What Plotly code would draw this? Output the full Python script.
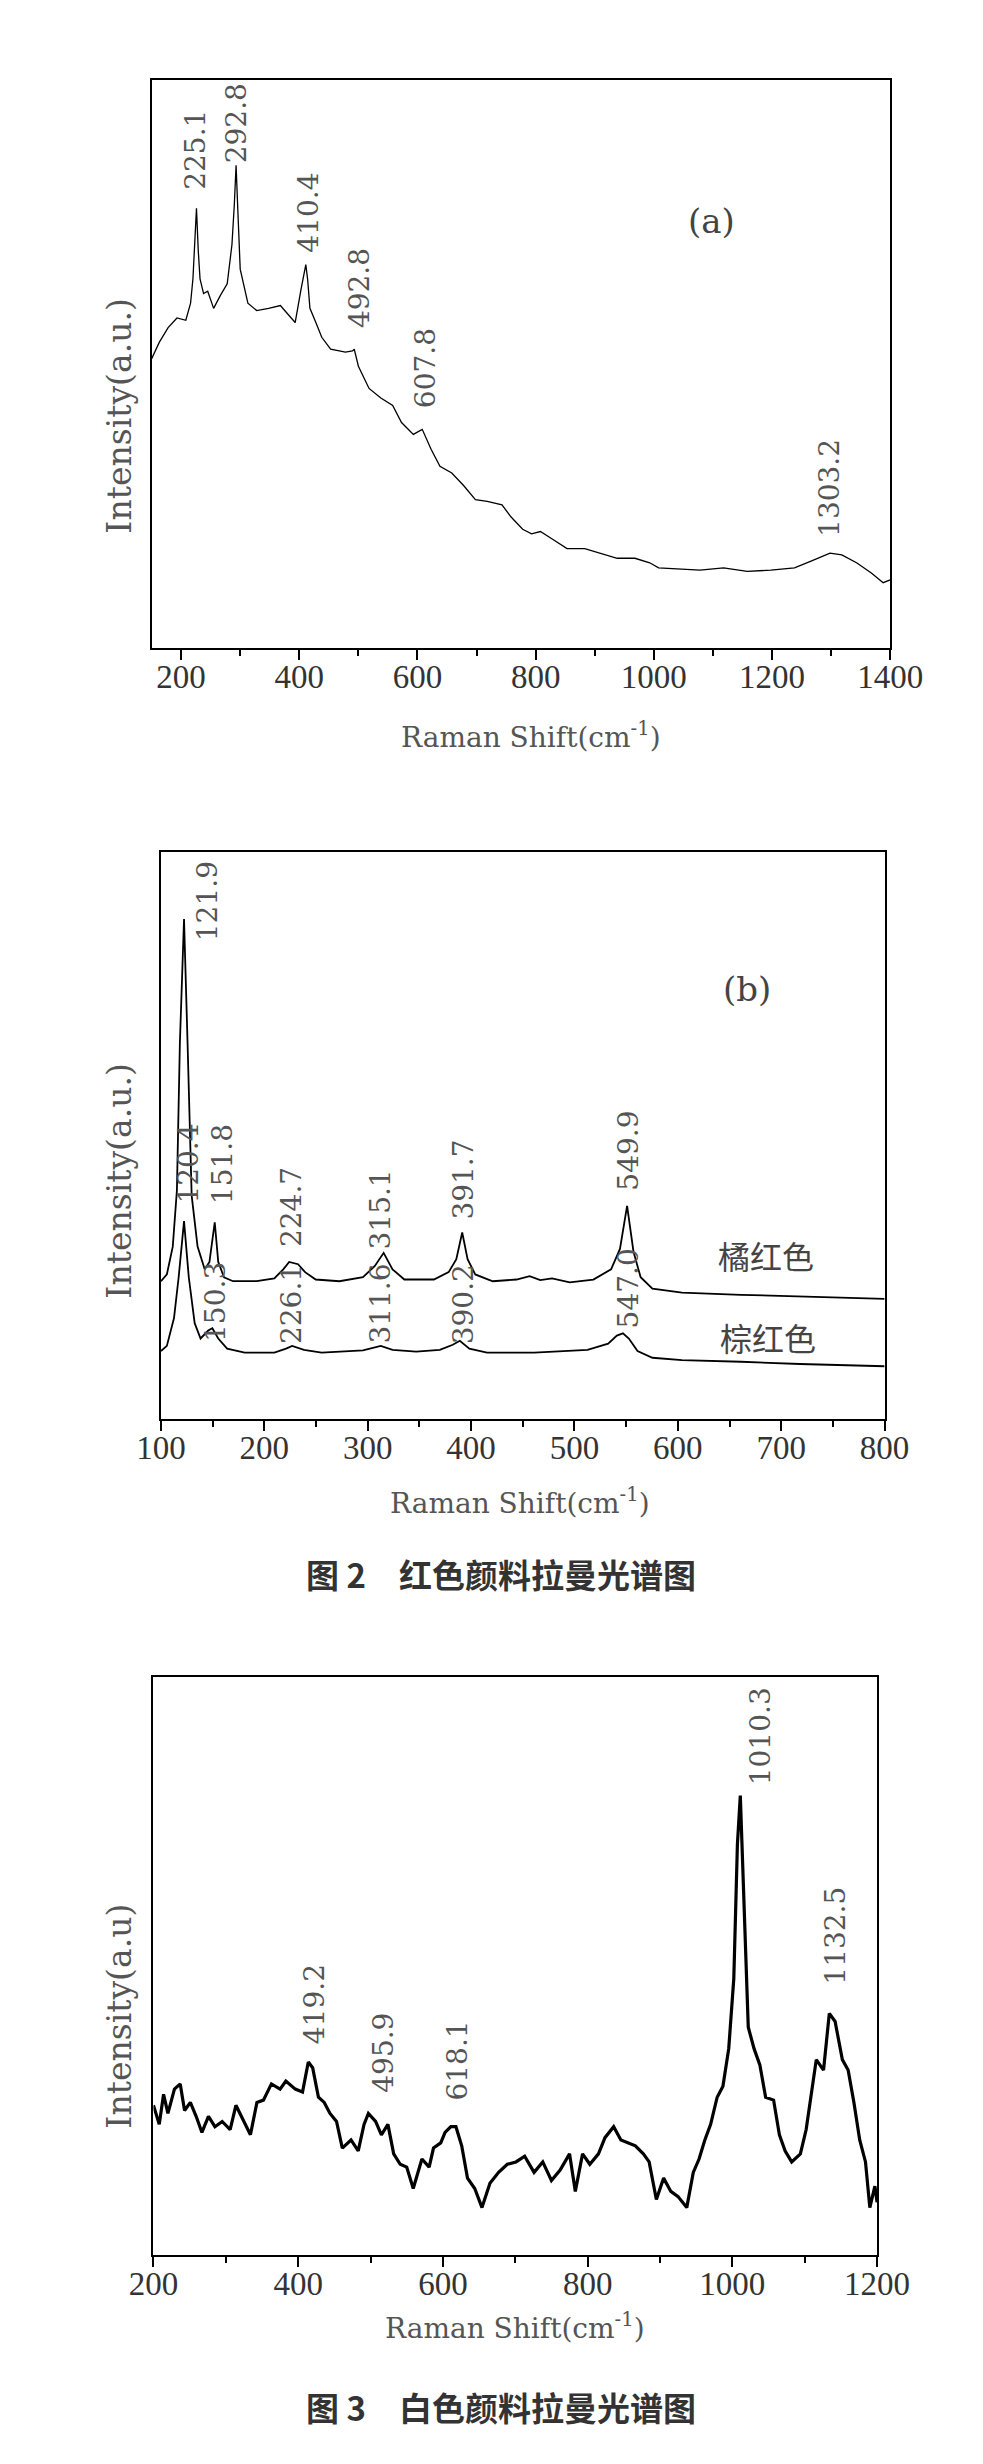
import plotly.graph_objects as go

# ---------------- Panel (a) data ----------------
a_shift = [150, 163, 178, 193, 208, 216, 220, 223, 226, 229, 232, 238, 245, 255, 266, 278, 286, 290, 293, 296, 300,
           313, 328, 348, 368, 383, 393, 403, 408, 411, 414, 418, 428, 438, 453, 478, 490, 493, 500, 518, 538, 558,
           573, 593, 608, 623, 638, 658, 678, 698, 718, 743, 758, 778, 793, 808, 828, 853, 883, 908, 938, 968, 993,
           1008, 1048, 1078, 1118, 1158, 1198, 1238, 1268, 1298, 1318, 1343, 1368, 1388, 1400]
a_int = [50.9, 53.8, 56.4, 58.1, 57.7, 60.7, 65.0, 72.0, 77.4, 70.0, 65.0, 62.4, 62.8, 59.8, 62.0, 64.1, 71.0, 78.0,
         85.0, 77.0, 66.7, 60.7, 59.4, 59.8, 60.3, 58.5, 57.3, 63.2, 66.0, 67.5, 65.0, 59.8, 57.3, 54.7, 52.6, 52.1,
         52.3, 52.6, 49.6, 45.7, 44.0, 42.7, 39.7, 37.6, 38.5, 35.0, 32.0, 30.8, 28.6, 26.1, 25.8, 25.2, 23.1, 20.9,
         20.1, 20.5, 19.2, 17.5, 17.5, 16.7, 15.8, 15.8, 15.0, 14.1, 13.8, 13.7, 14.1, 13.5, 13.7, 14.1, 15.4, 16.7,
         16.4, 15.0, 13.2, 11.5, 12.0]
a_labels = ["225.1", "292.8", "410.4", "492.8", "607.8", "1303.2"]
a_label_x = [225, 293, 416, 503, 613, 1298]
a_label_y = [80.3, 85.0, 69.2, 56.0, 41.9, 19.2]

# ---------------- Panel (b) data ----------------
b_shift_top = [100, 105.7, 111.4, 115.4, 118.3, 122.3, 125.7, 129.7, 135.4, 142.3, 146.9, 152, 155.4, 161, 169.7,
               192.6, 209.7, 218.3, 224, 232.6, 239.4, 249.7, 272.6, 295.4, 306.9, 315.4, 324, 335.4, 364, 378.3,
               385.7, 391.4, 396.6, 404, 421, 444, 456.6, 466.9, 478.3, 495.4, 518.3, 535.4, 544, 550.9, 557.1,
               564, 575.4, 604, 661, 718, 800]
b_int_top = [24.3, 25.5, 30.4, 40.3, 66.4, 88.2, 66.4, 39.4, 30.4, 26.4, 27.7, 34.7, 27.7, 25.0, 24.3,
             24.3, 24.8, 26.4, 27.7, 27.3, 25.9, 24.6, 24.3, 25.0, 27.0, 29.3, 26.4, 24.6, 24.6, 25.9,
             28.2, 32.9, 28.2, 25.5, 24.3, 24.6, 25.2, 24.5, 24.8, 24.1, 24.6, 26.4, 30.0, 37.6, 29.5,
             25.0, 23.0, 22.3, 21.9, 21.6, 21.2]
b_shift_bot = [100, 105.7, 112.6, 117.1, 122.3, 126.9, 132.6, 138.3, 145.7, 149.7, 155.4, 164, 181, 209.7, 221,
               226.9, 238.3, 255.4, 295.4, 312.6, 324, 346.9, 369.7, 382.3, 389.1, 398.3, 415.4, 461, 512.6,
               532.6, 541, 546.9, 552.6, 561, 575.4, 604, 661, 718, 800]
b_int_bot = [12.0, 12.9, 17.8, 25.0, 34.9, 25.0, 16.9, 14.2, 15.6, 16.0, 14.2, 12.4, 11.7, 11.7, 12.4,
             12.9, 12.2, 11.7, 12.1, 12.9, 12.2, 11.9, 12.2, 13.1, 13.8, 12.4, 11.7, 11.7, 12.2,
             13.3, 14.7, 15.1, 14.2, 12.0, 10.8, 10.4, 10.1, 9.7, 9.3]
b_labels_top = ["121.9", "120.4", "151.8", "224.7", "315.1", "391.7", "549.9"]
b_label_top_x = [145, 126.9, 159.4, 226.9, 312.6, 392.6, 552.6]
b_label_top_y = [84.0, 37.6, 37.6, 30.0, 29.5, 34.9, 39.9]
b_labels_bot = ["150.3", "226.1", "311.6", "390.2", "547.0"]
b_label_bot_x = [152.6, 226.9, 312.6, 392.6, 552.6]
b_label_bot_y = [13.3, 12.9, 12.9, 12.9, 15.6]
b_series_names = ["橘红色", "棕红色"]

# ---------------- Panel (c) data ----------------
c_shift = [200, 208, 214, 220, 229, 237, 243, 251, 259, 267, 276, 285, 295, 306, 314, 325, 334, 343, 352, 363, 375,
           383, 396, 406, 414, 420, 428, 436, 444, 453, 461, 473, 483, 491, 497, 507, 515, 524, 532, 541, 550, 559,
           571, 581, 587, 597, 603, 611, 618, 626, 634, 644, 654, 665, 677, 689, 701, 713, 726, 738, 750, 762, 775,
           783, 793, 803, 815, 824, 836, 846, 856, 866, 877, 885, 895, 905, 915, 925, 937, 946, 954, 962, 970, 979,
           987, 995, 1002, 1007, 1011, 1016, 1022, 1030, 1038, 1046, 1057, 1065, 1073, 1082, 1094, 1102, 1108,
           1116, 1126, 1134, 1142, 1152, 1160, 1168, 1176, 1184, 1190, 1197, 1200]
c_int = [25.9, 22.6, 27.8, 24.5, 28.7, 29.6, 25.0, 26.4, 24.0, 21.2, 24.0, 22.2, 23.1, 21.7, 25.9, 23.1, 20.8, 26.4,
         26.8, 29.6, 28.7, 30.1, 28.7, 28.2, 33.4, 32.4, 27.3, 26.4, 24.5, 23.1, 18.5, 19.9, 18.0, 22.6, 24.5, 23.1,
         20.8, 22.6, 17.5, 15.7, 15.2, 11.5, 16.6, 15.2, 18.5, 19.4, 21.2, 22.2, 22.2, 18.9, 13.3, 11.5, 8.2, 12.4,
         14.3, 15.7, 16.1, 17.1, 14.3, 16.1, 12.9, 14.7, 17.5, 11.0, 17.5, 15.7, 17.5, 20.3, 22.2, 19.9, 19.4, 18.9,
         17.5, 16.1, 9.6, 13.3, 11.0, 10.1, 8.2, 14.3, 16.6, 19.9, 22.6, 27.3, 29.2, 35.7, 47.8, 71.1, 79.5, 61.8,
         39.4, 35.7, 32.9, 27.3, 26.8, 20.8, 18.0, 16.1, 17.5, 21.7, 27.3, 33.8, 32.0, 41.8, 40.4, 33.8, 32.0, 26.4,
         19.9, 16.1, 8.2, 11.9, 9.1]
c_labels = ["419.2", "495.9", "618.1", "1010.3", "1132.5"]
c_label_x = [422.5, 517.8, 619.7, 1039.4, 1143]
c_label_y = [36.2, 27.8, 26.4, 80.9, 46.4]

# ---------------- Figure ----------------
W, H = 983, 2464
fig = go.Figure()
fig.add_trace(go.Scatter(x=a_shift, y=a_int, mode="lines", line=dict(color="black", width=1.3),
                         xaxis="x", yaxis="y", showlegend=False))
fig.add_trace(go.Scatter(x=b_shift_top, y=b_int_top, mode="lines", line=dict(color="black", width=1.8),
                         xaxis="x2", yaxis="y2", showlegend=False, name=b_series_names[0]))
fig.add_trace(go.Scatter(x=b_shift_bot, y=b_int_bot, mode="lines", line=dict(color="black", width=1.8),
                         xaxis="x2", yaxis="y2", showlegend=False, name=b_series_names[1]))
fig.add_trace(go.Scatter(x=c_shift, y=c_int, mode="lines", line=dict(color="black", width=3.2),
                         xaxis="x3", yaxis="y3", showlegend=False))

tickfont = dict(family="Liberation Serif", size=33, color="#333")
lab_font = dict(family="DejaVu Serif", size=28, color="#555")
ytitle_font = dict(family="DejaVu Serif", size=33, color="#555")
xtitle_font = dict(family="DejaVu Serif", size=28, color="#555")


def xax(domain, anchor, rng, dtick, minor):
    return dict(domain=domain, anchor=anchor, range=rng, tick0=0, dtick=dtick, ticks="outside", ticklen=10,
                tickwidth=2, tickcolor="black", showline=True, linecolor="black", linewidth=2, mirror=True,
                showgrid=False, zeroline=False, tickfont=tickfont, ticklabelstandoff=-12,
                minor=dict(dtick=minor, tick0=0, ticks="outside", ticklen=6, tickwidth=2, tickcolor="black"))


def yax(domain, anchor, rng):
    return dict(domain=domain, anchor=anchor, range=rng, showline=True, linecolor="black", linewidth=2,
                mirror=True, showticklabels=False, ticks="", showgrid=False, zeroline=False)


def py(y):
    return 1 - y / H


fig.update_layout(
    width=W, height=H, margin=dict(l=0, r=0, t=0, b=0), paper_bgcolor="white", plot_bgcolor="white",
    xaxis=xax([126 / W, 911 / W], "y", [150, 1400], 200, 100),
    yaxis=yax([py(640), py(72)], "x", [0, 100]),
    xaxis2=xax([136 / W, 905 / W], "y2", [100, 800], 100, 50),
    yaxis2=yax([py(1411), py(844)], "x2", [0, 100]),
    xaxis3=xax([128 / W, 897 / W], "y3", [200, 1200], 200, 100),
    yaxis3=yax([py(2247), py(1669)], "x3", [0, 100]),
)

ann = []


def peak_labels(texts, xs, ys, xr, yr):
    for t, x, y in zip(texts, xs, ys):
        ann.append(dict(text=t, x=x, y=y, xref=xr, yref=yr, textangle=-90, showarrow=False,
                        xanchor="center", yanchor="bottom", font=lab_font))


peak_labels(a_labels, a_label_x, a_label_y, "x", "y")
peak_labels(b_labels_top, b_label_top_x, b_label_top_y, "x2", "y2")
peak_labels(b_labels_bot, b_label_bot_x, b_label_bot_y, "x2", "y2")
peak_labels(c_labels, c_label_x, c_label_y, "x3", "y3")

panel_font = dict(family="DejaVu Serif", size=34, color="#444")
ann.append(dict(text="(a)", x=1098, y=75.2, xref="x", yref="y", showarrow=False,
                xanchor="center", yanchor="middle", font=panel_font))
ann.append(dict(text="(b)", x=667, y=75.9, xref="x2", yref="y2", showarrow=False,
                xanchor="center", yanchor="middle", font=panel_font))
cn_font = dict(family="Noto Sans CJK SC", size=32, color="#444")
ann.append(dict(text=b_series_names[0], x=685, y=29, xref="x2", yref="y2", showarrow=False,
                xanchor="center", yanchor="middle", font=cn_font))
ann.append(dict(text=b_series_names[1], x=687, y=14.4, xref="x2", yref="y2", showarrow=False,
                xanchor="center", yanchor="middle", font=cn_font))

# axis titles
for txt, yc in (("Intensity(a.u.)", 408), ("Intensity(a.u.)", 1173), ("Intensity(a.u)", 2008)):
    ann.append(dict(text=txt, x=91 / W, y=py(yc), xref="paper", yref="paper", textangle=-90,
                    showarrow=False, xanchor="center", yanchor="middle", font=ytitle_font))
for xc, yc in ((529, 728), (518, 1493), (512, 2318)):
    ann.append(dict(text="Raman Shift(cm<sup>-1</sup>)", x=xc / W, y=py(yc), xref="paper", yref="paper",
                    showarrow=False, xanchor="center", yanchor="middle", font=xtitle_font))

# captions
cap_font = dict(family="Noto Sans CJK SC", size=33, color="#333", weight=600)
ann.append(dict(text="图 2　红色颜料拉曼光谱图", x=497 / W, y=py(1566), xref="paper", yref="paper",
                showarrow=False, xanchor="center", yanchor="middle", font=cap_font))
ann.append(dict(text="图 3　白色颜料拉曼光谱图", x=497 / W, y=py(2399), xref="paper", yref="paper",
                showarrow=False, xanchor="center", yanchor="middle", font=cap_font))

fig.update_layout(annotations=ann)
fig.write_html("out.html")
